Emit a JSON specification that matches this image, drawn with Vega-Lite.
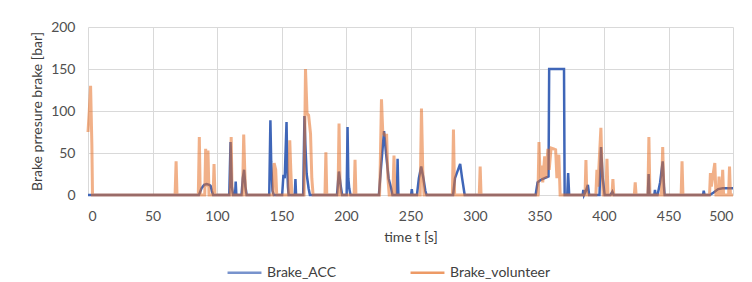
{
  "$schema": "https://vega.github.io/schema/vega-lite/v6.json",
  "width": 645,
  "height": 168,
  "autosize": {"type": "none"},
  "padding": {"left": 88, "top": 27, "right": 19, "bottom": 87},
  "background": "white",
  "config": {
    "font": "Lato",
    "view": {"stroke": null},
    "axis": {
      "labelFont": "Lato", "labelFontSize": 14, "labelColor": "#505050",
      "titleFont": "Lato", "titleFontSize": 14, "titleFontWeight": "normal", "titleColor": "#404040",
      "gridColor": "#d9d9d9", "gridWidth": 1, "ticks": false, "domain": false
    },
    "legend": {"labelFont": "Lato", "labelFontSize": 14, "labelColor": "#404040"}
  },
  "datasets": {
    "acc": [
      {"t":0,"v":0},{"t":86,"v":0},{"t":88,"v":8},{"t":90,"v":12},{"t":92,"v":13},{"t":94,"v":12},{"t":95,"v":11},{"t":96,"v":5},{"t":97,"v":0},
      {"t":109.5,"v":0},{"t":110.5,"v":63},{"t":111.5,"v":10},{"t":112.5,"v":0},
      {"t":114,"v":0},{"t":114.5,"v":16},{"t":115,"v":0},
      {"t":119,"v":0},{"t":120,"v":20},{"t":121,"v":30},{"t":122,"v":10},{"t":123,"v":0},
      {"t":140.5,"v":0},{"t":141.4,"v":89},{"t":142,"v":40},{"t":143,"v":5},{"t":144,"v":0},
      {"t":150.5,"v":0},{"t":151.5,"v":24},{"t":152.5,"v":20},{"t":153.9,"v":87},{"t":154.5,"v":30},{"t":155,"v":10},{"t":155.5,"v":0},
      {"t":160.3,"v":0},{"t":160.8,"v":19},{"t":161.3,"v":0},
      {"t":166.8,"v":0},{"t":167.8,"v":94},{"t":168.5,"v":60},{"t":169.5,"v":25},{"t":171,"v":8},{"t":172,"v":0},
      {"t":193,"v":0},{"t":194.5,"v":28},{"t":196,"v":10},{"t":197,"v":0},
      {"t":200.5,"v":0},{"t":201.2,"v":81},{"t":201.8,"v":20},{"t":202.5,"v":8},{"t":203.5,"v":0},
      {"t":225.5,"v":0},{"t":227,"v":30},{"t":229.5,"v":76},{"t":231,"v":50},{"t":233,"v":20},{"t":235,"v":8},{"t":236,"v":0},
      {"t":239.5,"v":0},{"t":240,"v":43},{"t":240.6,"v":0},
      {"t":250.5,"v":0},{"t":251,"v":7},{"t":251.5,"v":0},
      {"t":255,"v":0},{"t":256.5,"v":20},{"t":258.3,"v":34},{"t":260,"v":20},{"t":261.5,"v":5},{"t":262.5,"v":0},
      {"t":283,"v":0},{"t":284.5,"v":20},{"t":288.5,"v":37},{"t":290,"v":20},{"t":291.5,"v":5},{"t":292,"v":0},
      {"t":347,"v":0},{"t":348.5,"v":15},{"t":351,"v":18},{"t":354,"v":20},{"t":357,"v":22},{"t":357.5,"v":150},{"t":369,"v":150},{"t":369.5,"v":0},
      {"t":371.5,"v":0},{"t":372.2,"v":26},{"t":373,"v":0},
      {"t":383.5,"v":0},{"t":384,"v":6},{"t":384.5,"v":0},{"t":386,"v":5},{"t":387.5,"v":12},{"t":388.5,"v":0},
      {"t":396.5,"v":0},{"t":397.7,"v":57},{"t":399,"v":20},{"t":400.5,"v":0},
      {"t":405,"v":0},{"t":406.5,"v":4},{"t":407.5,"v":0},
      {"t":434,"v":0},{"t":434.6,"v":25},{"t":435.2,"v":0},
      {"t":439,"v":0},{"t":439.5,"v":6},{"t":440,"v":0},
      {"t":441.5,"v":0},{"t":443.5,"v":15},{"t":445.5,"v":40},{"t":446.5,"v":10},{"t":447,"v":0},
      {"t":476.8,"v":0},{"t":477.3,"v":5},{"t":478,"v":0},
      {"t":482,"v":0},{"t":485,"v":3},{"t":488.5,"v":7},{"t":492,"v":8},{"t":500,"v":8}
    ],
    "vol": [
      {"t":0,"v":75},{"t":1,"v":100},{"t":2,"v":130},{"t":3,"v":60},{"t":3.5,"v":0},
      {"t":67.5,"v":0},{"t":68.3,"v":40},{"t":69,"v":0},
      {"t":85.5,"v":0},{"t":86.3,"v":69},{"t":87,"v":0},
      {"t":90.5,"v":0},{"t":91.2,"v":55},{"t":92.2,"v":10},{"t":93,"v":53},{"t":93.8,"v":0},
      {"t":97,"v":0},{"t":97.7,"v":37},{"t":98.4,"v":0},
      {"t":110.3,"v":0},{"t":111,"v":69},{"t":111.7,"v":0},
      {"t":119.8,"v":0},{"t":120.7,"v":72},{"t":121.5,"v":30},{"t":122.3,"v":0},
      {"t":143.5,"v":0},{"t":144.3,"v":38},{"t":145.5,"v":30},{"t":146.3,"v":0},
      {"t":155.6,"v":0},{"t":156.4,"v":65},{"t":157.2,"v":30},{"t":158,"v":0},
      {"t":167.5,"v":0},{"t":168.6,"v":150},{"t":169.8,"v":97},{"t":171,"v":95},{"t":172.5,"v":73},{"t":173.5,"v":20},{"t":174.5,"v":0},
      {"t":183.7,"v":0},{"t":184.4,"v":51},{"t":185.1,"v":0},
      {"t":193.8,"v":0},{"t":194.6,"v":85},{"t":195.4,"v":10},{"t":196,"v":0},
      {"t":206.3,"v":0},{"t":207,"v":42},{"t":207.7,"v":0},
      {"t":226,"v":0},{"t":226.5,"v":30},{"t":227.5,"v":114},{"t":228.5,"v":75},{"t":230,"v":71},{"t":231.5,"v":71},{"t":232.5,"v":20},{"t":233.5,"v":0},
      {"t":236.3,"v":0},{"t":237.2,"v":47},{"t":238,"v":0},
      {"t":257.5,"v":0},{"t":258.5,"v":103},{"t":259.5,"v":30},{"t":260.5,"v":0},
      {"t":282.5,"v":0},{"t":283.3,"v":78},{"t":284.2,"v":0},
      {"t":303.3,"v":0},{"t":304,"v":34},{"t":304.7,"v":0},
      {"t":348.8,"v":0},{"t":349.6,"v":63},{"t":350.5,"v":20},{"t":351.5,"v":35},{"t":352.5,"v":15},{"t":354,"v":46},{"t":355,"v":20},{"t":356.5,"v":55},{"t":357.5,"v":30},{"t":359,"v":56},{"t":361,"v":55},{"t":362.5,"v":54},{"t":363.5,"v":20},{"t":365,"v":48},{"t":366,"v":0},
      {"t":385.3,"v":0},{"t":386,"v":41.5},{"t":386.7,"v":0},
      {"t":393.7,"v":0},{"t":394.5,"v":30},{"t":395.3,"v":10},{"t":397.6,"v":80},{"t":398.5,"v":30},{"t":399.3,"v":0},
      {"t":401.5,"v":0},{"t":402.3,"v":43},{"t":403.1,"v":0},
      {"t":406.2,"v":0},{"t":406.9,"v":19},{"t":407.6,"v":0},
      {"t":423.5,"v":0},{"t":424.2,"v":15},{"t":424.9,"v":0},
      {"t":434,"v":0},{"t":434.8,"v":69},{"t":435.6,"v":0},
      {"t":444.5,"v":0},{"t":445.5,"v":57},{"t":446.5,"v":0},
      {"t":459.8,"v":0},{"t":460.5,"v":40},{"t":461.2,"v":0},
      {"t":481.8,"v":0},{"t":482.5,"v":26},{"t":483.2,"v":10},{"t":485.9,"v":38},{"t":486.8,"v":0},
      {"t":488.5,"v":0},{"t":489.2,"v":22},{"t":490,"v":0},
      {"t":491.3,"v":0},{"t":492,"v":30},{"t":492.7,"v":0},
      {"t":496.6,"v":0},{"t":497.3,"v":34},{"t":498,"v":0},{"t":500,"v":0}
    ]
  },
  "encoding": {
    "x": {
      "field": "t", "type": "quantitative",
      "scale": {"domain": [0, 500], "nice": false},
      "axis": {"values": [0,50,100,150,200,250,300,350,400,450,500], "title": "time t [s]", "labelPadding": 14, "titlePadding": 7, "grid": true}
    },
    "y": {
      "field": "v", "type": "quantitative",
      "scale": {"domain": [0, 200], "nice": false},
      "axis": {"values": [0,50,100,150,200], "title": "Brake prresure brake [bar]", "labelPadding": 13, "titlePadding": 6, "grid": true}
    },
    "color": {
      "field": "series", "type": "nominal",
      "scale": {"domain": ["Brake_ACC", "Brake_volunteer"], "range": ["#3f66b8", "#e67026"]},
      "legend": {"orient": "none", "legendX": 138, "legendY": 227, "direction": "horizontal", "title": null, "symbolType": "stroke", "symbolSize": 1150, "symbolStrokeWidth": 2.5, "symbolOpacity": 0.7, "columnPadding": 68, "labelOffset": 4}
    }
  },
  "layer": [
    {
      "data": {"name": "acc"},
      "transform": [{"calculate": "'Brake_ACC'", "as": "series"}],
      "mark": {"type": "line", "strokeWidth": 2.5}
    },
    {
      "data": {"name": "vol"},
      "transform": [{"calculate": "'Brake_volunteer'", "as": "series"}],
      "mark": {"type": "line", "strokeWidth": 3, "opacity": 0.55}
    }
  ]
}
